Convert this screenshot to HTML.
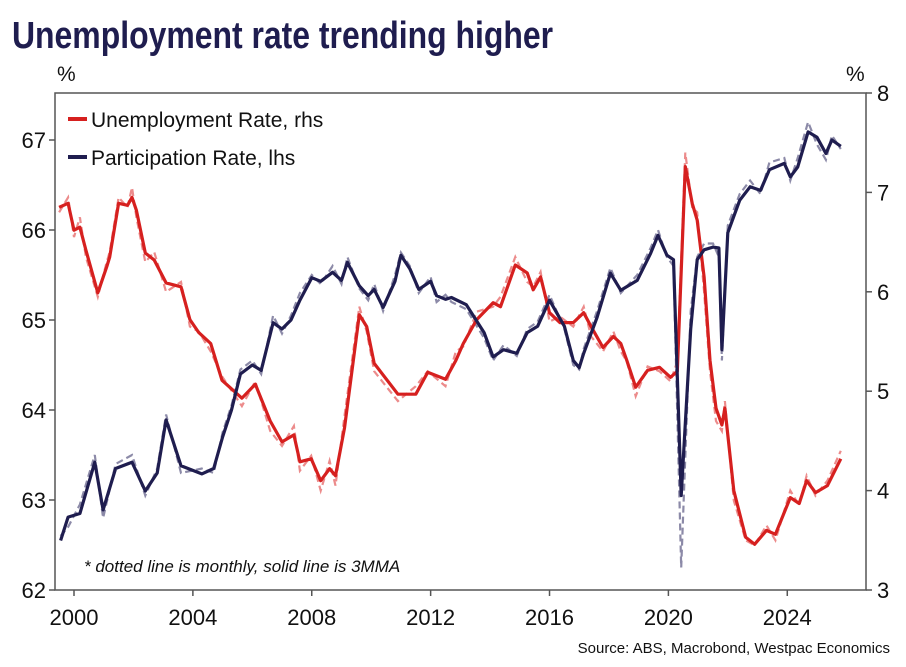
<!DOCTYPE html>
<html><head><meta charset="utf-8"><style>
html,body{margin:0;padding:0;background:#fff;width:906px;height:667px;overflow:hidden}
svg{display:block;font-family:"Liberation Sans",sans-serif}
</style></head><body>
<svg id="chart" width="906" height="667" viewBox="0 0 906 667">
<text x="12" y="48" font-family="'Liberation Sans Narrow','Liberation Sans',sans-serif" font-weight="bold" font-size="38" fill="#1f1d4f" textLength="541" lengthAdjust="spacingAndGlyphs">Unemployment rate trending higher</text>
<text x="57" y="81" font-size="21" fill="#111">%</text>
<text x="846" y="81" font-size="21" fill="#111">%</text>
<g id="plot"></g>
<g>
<line x1="68" y1="119" x2="87" y2="119" stroke="#d6201f" stroke-width="4"/>
<text x="91" y="127" font-size="21" fill="#111">Unemployment Rate, rhs</text>
<line x1="68" y1="157" x2="87" y2="157" stroke="#1f1d4f" stroke-width="4"/>
<text x="91" y="165" font-size="21" fill="#111">Participation Rate, lhs</text>
</g>
<text x="84" y="572" font-size="17" font-style="italic" fill="#111">* dotted line is monthly, solid line is 3MMA</text>
<text x="890" y="653" font-size="15" fill="#111" text-anchor="end">Source: ABS, Macrobond, Westpac Economics</text>
</svg>
<script>
const partDates=[1999.55,1999.8,2000.2,2000.7,2000.98,2001.4,2001.95,2002.4,2002.8,2003.1,2003.6,2004.3,2004.7,2005.0,2005.3,2005.6,2006.0,2006.3,2006.7,2007.0,2007.3,2007.6,2008.0,2008.3,2008.7,2009.0,2009.2,2009.6,2009.9,2010.1,2010.4,2010.8,2011.0,2011.3,2011.6,2012.0,2012.2,2012.5,2012.7,2013.2,2013.8,2014.1,2014.45,2014.9,2015.25,2015.6,2016.0,2016.5,2016.8,2017.0,2017.15,2017.6,2018.05,2018.4,2018.95,2019.4,2019.65,2019.95,2020.17,2020.43,2020.75,2020.97,2021.2,2021.5,2021.7,2021.8,2022.0,2022.4,2022.75,2023.1,2023.4,2023.9,2024.1,2024.35,2024.7,2025.0,2025.3,2025.5,2025.8];
const partSolid=[62.55,62.81,62.85,63.42,62.89,63.35,63.42,63.1,63.3,63.89,63.38,63.29,63.35,63.7,64.0,64.4,64.5,64.44,64.97,64.9,65.0,65.22,65.47,65.43,65.53,65.44,65.64,65.38,65.27,65.34,65.14,65.43,65.72,65.57,65.34,65.43,65.27,65.23,65.25,65.17,64.86,64.59,64.67,64.63,64.86,64.93,65.22,64.93,64.55,64.47,64.63,65.03,65.52,65.33,65.44,65.74,65.94,65.72,65.67,63.05,64.9,65.67,65.78,65.81,65.8,64.67,65.97,66.33,66.48,66.44,66.67,66.74,66.59,66.7,67.09,67.03,66.85,67.0,66.93];
const partMonthly=[62.6,62.7,62.95,63.5,62.8,63.4,63.5,63.05,63.35,63.95,63.3,63.35,63.3,63.75,64.05,64.45,64.55,64.4,65.05,64.85,65.05,65.3,65.5,65.4,65.6,65.4,65.7,65.35,65.22,65.4,65.1,65.5,65.75,65.6,65.3,65.48,65.2,65.28,65.2,65.12,64.8,64.55,64.72,64.6,64.9,64.98,65.28,64.9,64.5,64.45,64.68,65.1,65.58,65.3,65.5,65.8,66.0,65.7,65.6,62.25,65.1,65.7,65.85,65.85,65.7,64.55,66.05,66.4,66.55,66.4,66.75,66.8,66.55,66.8,67.2,66.95,66.78,67.05,66.9];
const uneDates=[1999.5,1999.8,2000.0,2000.2,2000.4,2000.8,2001.1,2001.2,2001.5,2001.8,2001.95,2002.1,2002.4,2002.7,2003.1,2003.6,2003.9,2004.2,2004.6,2004.98,2005.65,2006.1,2006.6,2007.0,2007.4,2007.6,2007.98,2008.3,2008.6,2008.8,2009.1,2009.6,2009.85,2010.1,2010.9,2011.5,2011.9,2012.5,2012.85,2013.1,2013.55,2014.1,2014.35,2014.85,2015.25,2015.45,2015.7,2016.0,2016.35,2016.8,2017.15,2017.4,2017.8,2018.15,2018.4,2018.6,2018.9,2019.3,2019.7,2020.07,2020.3,2020.57,2020.8,2020.97,2021.2,2021.4,2021.6,2021.8,2021.9,2022.2,2022.6,2022.9,2023.3,2023.6,2024.1,2024.4,2024.65,2024.95,2025.35,2025.8];
const uneSolid=[6.85,6.89,6.62,6.65,6.42,5.99,6.25,6.35,6.89,6.87,6.95,6.82,6.39,6.32,6.09,6.05,5.72,5.59,5.48,5.11,4.93,5.07,4.7,4.49,4.56,4.29,4.32,4.1,4.22,4.15,4.63,5.77,5.65,5.28,4.97,4.97,5.19,5.12,5.31,5.48,5.72,5.89,5.85,6.27,6.19,6.02,6.15,5.79,5.69,5.69,5.79,5.65,5.44,5.55,5.48,5.31,5.04,5.21,5.24,5.14,5.2,7.26,6.89,6.72,6.15,5.31,4.83,4.66,4.83,4.0,3.53,3.46,3.6,3.56,3.93,3.87,4.1,3.98,4.05,4.32];
const uneMonthly=[6.8,6.95,6.55,6.75,6.35,5.95,6.3,6.4,6.95,6.85,7.05,6.75,6.3,6.4,6.0,6.1,5.65,5.6,5.4,5.15,4.85,5.1,4.6,4.45,4.65,4.2,4.35,4.0,4.3,4.05,4.75,5.85,5.6,5.2,4.9,5.05,5.2,5.05,5.4,5.45,5.8,5.85,5.95,6.35,6.1,6.05,6.2,5.7,5.75,5.65,5.85,5.55,5.4,5.6,5.4,5.3,4.95,5.25,5.2,5.1,5.3,7.4,6.85,6.8,6.0,5.2,4.7,4.6,4.9,3.9,3.5,3.45,3.65,3.5,4.0,3.85,4.15,3.95,4.1,4.4];
const xTicks=[2000,2004,2008,2012,2016,2020,2024];
const leftTicks=[62,63,64,65,66,67];
const rightTicks=[3,4,5,6,7,8];

const L=55,R=866,T=93,B=590;
const xS=y=>74+(y-2000)*29.72;
const yL=v=>590-(v-62)*90;
const yR=v=>590-(v-3)*99.4;
const NS="http://www.w3.org/2000/svg";
const plot=document.getElementById('plot');
function mk(tag,attrs){const e=document.createElementNS(NS,tag);for(const k in attrs)e.setAttribute(k,attrs[k]);plot.appendChild(e);return e;}

const frame=mk('rect',{x:L,y:T,width:R-L,height:B-T,fill:'none',stroke:'#555','stroke-width':1.5});



xTicks.forEach(t=>{
  const x=xS(t);
  const tk=mk('line',{x1:x,y1:B,x2:x,y2:B+6,stroke:'#555','stroke-width':1.5});
  
  
  const lb=mk('text',{x:x,y:B+35,'font-size':22,'text-anchor':'middle',fill:'#111'});
  lb.textContent=t;
  
  
});
leftTicks.forEach(t=>{
  const y=yL(t);
  const tk=mk('line',{x1:L-6,y1:y,x2:L,y2:y,stroke:'#555','stroke-width':1.5});
  
  
  const lb=mk('text',{x:L-9,y:y+8,'font-size':22,'text-anchor':'end',fill:'#111'});
  lb.textContent=t;
  
  
});
rightTicks.forEach(t=>{
  const y=yR(t);
  const tk=mk('line',{x1:R,y1:y,x2:R+6,y2:y,stroke:'#555','stroke-width':1.5});
  
  
  const lb=mk('text',{x:R+11,y:y+8,'font-size':22,'text-anchor':'start',fill:'#111'});
  lb.textContent=t;
  
  
});

function pts(d,v,ys){return d.map((x,i)=>xS(x).toFixed(1)+','+ys(v[i]).toFixed(1)).join(' ');}
const um=mk('polyline',{points:pts(uneDates,uneMonthly,yR),fill:'none',stroke:'#ec8b8b','stroke-width':2.2,'stroke-dasharray':'7,4'});


const pm=mk('polyline',{points:pts(partDates,partMonthly,yL),fill:'none',stroke:'#8c8aa8','stroke-width':2.2,'stroke-dasharray':'7,4'});


const us=mk('polyline',{points:pts(uneDates,uneSolid,yR),fill:'none',stroke:'#d6201f','stroke-width':3.2,'stroke-linejoin':'round'});


const ps=mk('polyline',{points:pts(partDates,partSolid,yL),fill:'none',stroke:'#1f1d4f','stroke-width':3.2,'stroke-linejoin':'round'});


</script>
</body></html>
